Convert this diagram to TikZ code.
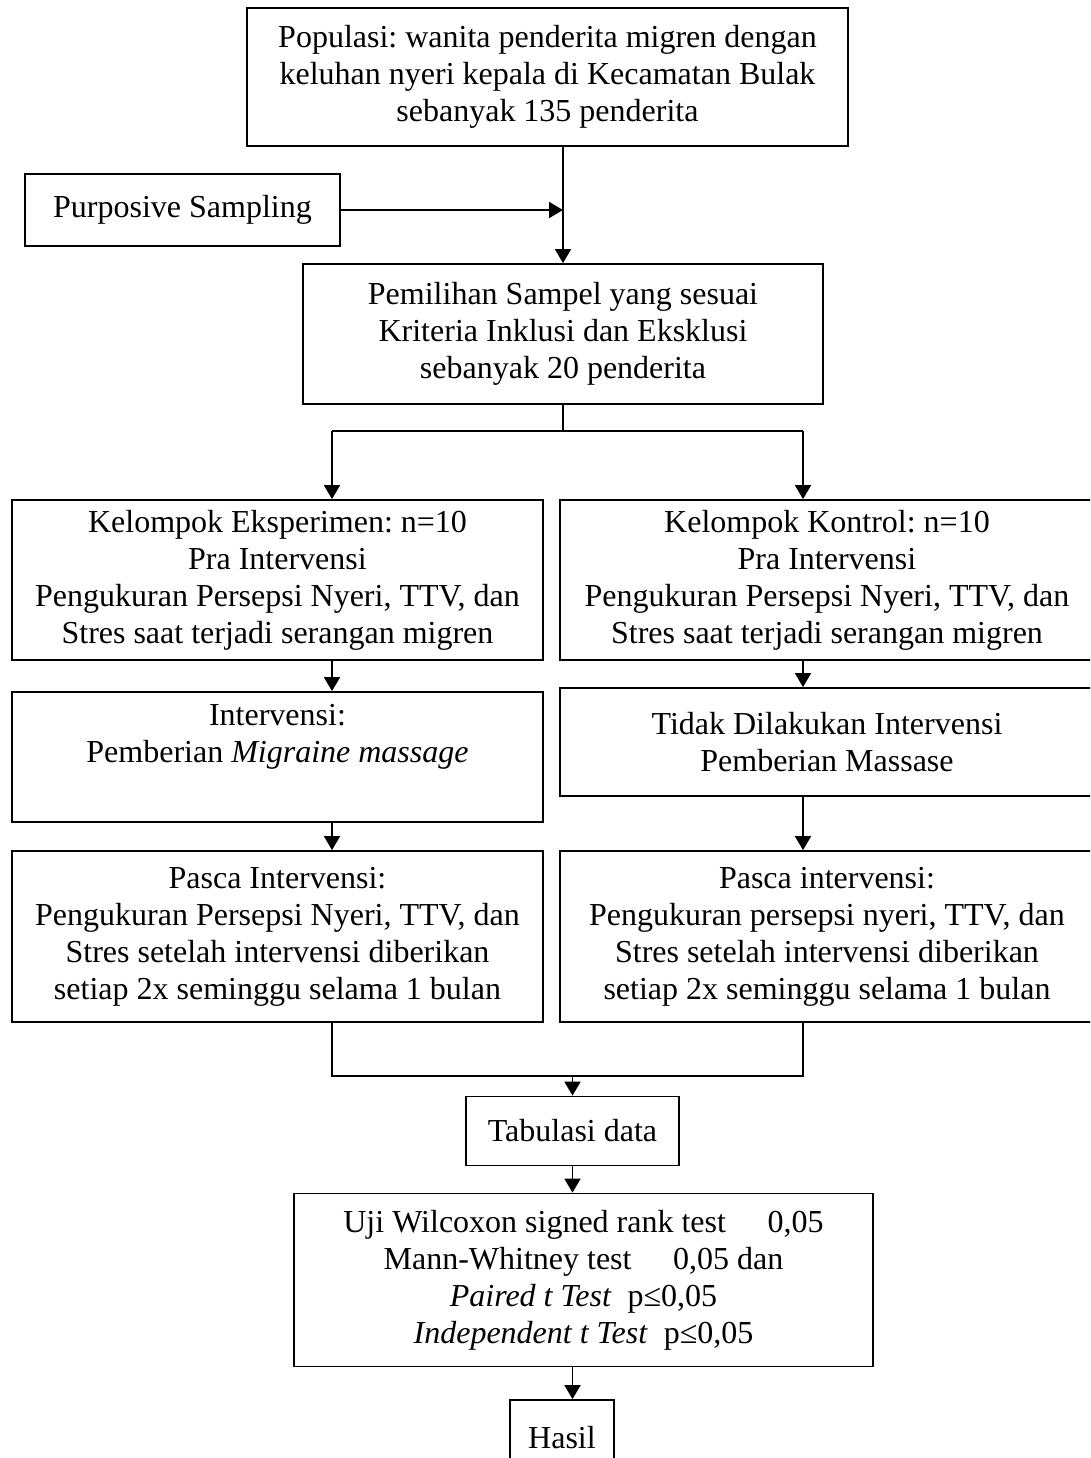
\documentclass[tikz,border=0pt]{standalone}
\usepackage{fontspec}
\setmainfont{Liberation Serif}
\usetikzlibrary{arrows.meta}
\frenchspacing

\begin{document}
\begin{tikzpicture}[x=1pt,y=-1pt,font=\fontsize{32}{37}\selectfont]
    % Styles for boxes and lines
    \tikzset{
      box/.style={rectangle, draw=black, line width=1.8pt, align=center, inner sep=0pt},
      arrow/.style={line width=1.8pt,-{Triangle[length=14pt,width=16pt]}},
      line/.style={line width=1.8pt}
    }
    \useasboundingbox (0,0) rectangle (1090,1458);
    \clip (0,0) rectangle (1090,1458);

    % Nodes with explicit coordinates
    \node[box, minimum width=601pt, minimum height=138pt] (pop) at (547.5,77) {Populasi: wanita penderita migren dengan\\keluhan nyeri kepala di Kecamatan Bulak\\sebanyak 135 penderita};
    \node[box, minimum width=315pt, minimum height=72pt] (purp) at (182.5,210) {Purposive Sampling};
    \node[box, minimum width=520pt, minimum height=140pt] (sel) at (563,334) {Pemilihan Sampel yang sesuai\\Kriteria Inklusi dan Eksklusi\\sebanyak 20 penderita};

    \node[box, minimum width=531pt, minimum height=160pt] (eksp) at (277.5,580) {Kelompok Eksperimen: n=10\\Pra Intervensi\\Pengukuran Persepsi Nyeri, TTV, dan\\Stres saat terjadi serangan migren};
    \node[box, minimum width=534pt, minimum height=160pt] (kont) at (827,580) {Kelompok Kontrol: n=10\\Pra Intervensi\\Pengukuran Persepsi Nyeri, TTV, dan\\Stres saat terjadi serangan migren};

    \node[box, minimum width=531pt, minimum height=130pt] (intv) at (277.5,757) {Intervensi:\\Pemberian \textit{Migraine massage}\\\strut};
    \node[box, minimum width=534pt, minimum height=108pt] (tdk) at (827,742) {Tidak Dilakukan Intervensi\\Pemberian Massase};

    \node[box, minimum width=531pt, minimum height=171pt] (pasE) at (277.5,936.5) {Pasca Intervensi:\\Pengukuran Persepsi Nyeri, TTV, dan\\Stres setelah intervensi diberikan\\setiap 2x seminggu selama 1 bulan};
    \node[box, minimum width=534pt, minimum height=171pt] (pasK) at (827,936.5) {Pasca intervensi:\\Pengukuran persepsi nyeri, TTV, dan\\Stres setelah intervensi diberikan\\setiap 2x seminggu selama 1 bulan};

    \node[box, minimum width=213pt, minimum height=69pt] (tab) at (572.5,1131) {Tabulasi data};
    \node[box, minimum width=579pt, minimum height=173pt] (uji) at (583.5,1280) {Uji Wilcoxon signed rank test\hspace{1.3em}0,05\\Mann-Whitney test\hspace{1.3em}0,05 dan\\\textit{Paired t Test}\ \ p≤0,05\\\textit{Independent t Test}\ \ p≤0,05};
    \node[box, minimum width=104pt, minimum height=76pt] (hasil) at (562,1438) {Hasil};

    % Arrows from the top
    \draw[line] (pop.south -| sel.north) -- (purp.east -| sel.north);
    \draw[arrow] (purp.east -| sel.north) -- (sel.north);
    \draw[arrow] (purp.east) -- (purp.east -| sel.north);

    % Split into the two groups
    \coordinate (splitE) at (332,431);
    \coordinate (splitK) at (803,431);
    \draw[line] (sel.south) -- (sel.south |- splitE);
    \draw[line] (splitE) -- (splitK);
    \draw[arrow] (splitE) -- (splitE |- eksp.north);
    \draw[arrow] (splitK) -- (splitK |- kont.north);
    \draw[arrow] (eksp.south -| splitE) -- (intv.north -| splitE);
    \draw[arrow] (kont.south -| splitK) -- (tdk.north -| splitK);
    \draw[arrow] (intv.south -| splitE) -- (pasE.north -| splitE);
    \draw[arrow] (tdk.south -| splitK) -- (pasK.north -| splitK);

    % Merge and analysis
    \coordinate (mergeE) at (332,1076);
    \coordinate (mergeK) at (803,1076);
    \draw[line] (pasE.south -| mergeE) -- (mergeE) -- (mergeK) -- (pasK.south -| mergeK);
    \draw[arrow] (mergeE -| tab.north) -- (tab.north);
    \draw[arrow] (tab.south) -- (tab.south |- uji.north);
    \draw[arrow] (tab.south |- uji.south) -- (tab.south |- hasil.north);

\end{tikzpicture}
\end{document}
